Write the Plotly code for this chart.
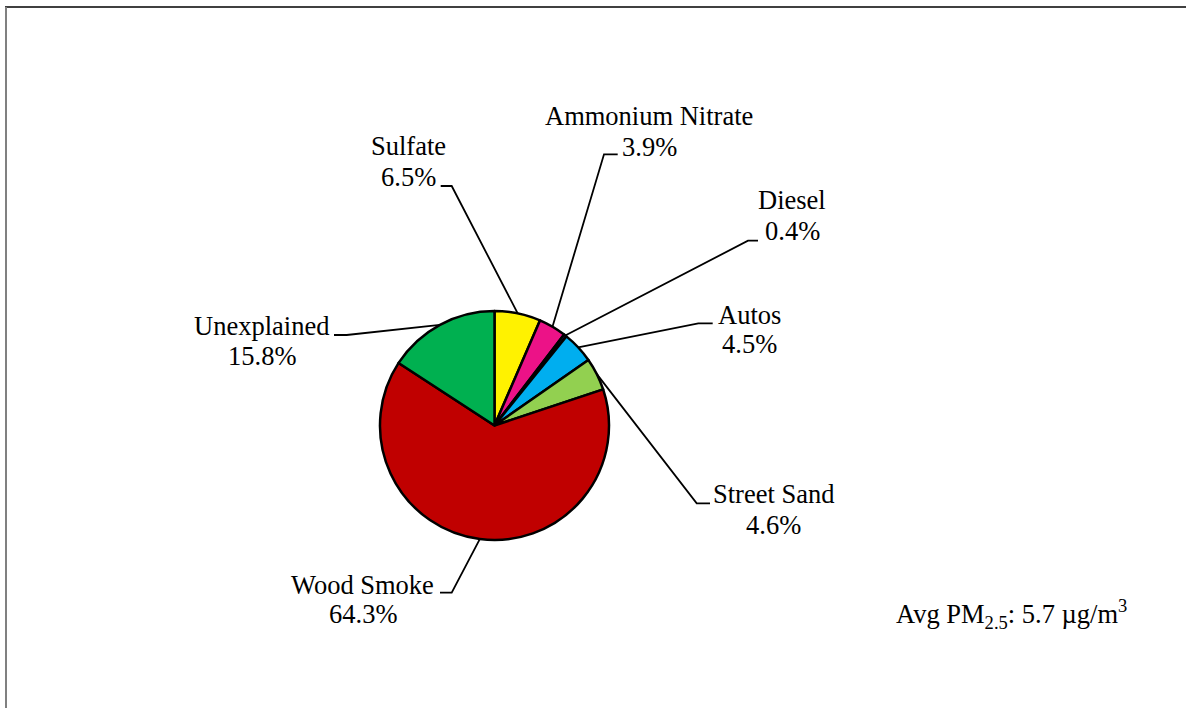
import math
import plotly.graph_objects as go

# ---- data ----
categories = ["Sulfate", "Ammonium Nitrate", "Diesel", "Autos", "Street Sand", "Wood Smoke", "Unexplained"]
values = [6.5, 3.9, 0.4, 4.5, 4.6, 64.3, 15.8]
colors = ["#FFF200", "#EC1287", "#1F1F8F", "#00AEEF", "#92D050", "#C00000", "#00B050"]
note_text = "Avg PM<sub>2.5</sub>: 5.7 µg/m<sup>3</sup>"

# ---- layout (page pixels) ----
W, H = 1186, 708
CX, CY, R = 494.5, 425.5, 114.5
FONT = "Liberation Serif, Times New Roman, serif"
FS = 26.5
# label centre x, baseline of name, baseline of percentage
label_cx = [408.3, 649.0, 792.0, 749.0, 773.3, 362.5, 261.5]
label_b1 = [155.0, 125.0, 209.3, 324.0, 503.3, 594.0, 335.0]
label_b2 = [185.7, 155.7, 240.0, 353.3, 533.5, 623.0, 365.0]
# leader: x at label end, x of elbow, y of horizontal segment
lead_x0 = [440.7, 617.7, 758.0, 712.7, 710.0, 440.0, 334.0]
lead_x1 = [451.7, 604.0, 748.0, 698.3, 696.7, 451.7, 346.7]
lead_y = [186.0, 154.3, 240.7, 323.3, 503.3, 592.7, 335.0]

fig = go.Figure()
fig.add_trace(go.Pie(
    labels=categories, values=values, sort=False, direction="clockwise", rotation=0,
    marker=dict(colors=colors, line=dict(color="black", width=2.5)),
    textinfo="none", showlegend=False,
    domain=dict(x=[(CX - R) / W, (CX + R) / W], y=[1 - (CY + R) / H, 1 - (CY - R) / H]),
))
# invisible pixel axes for overlays
fig.add_trace(go.Scatter(x=[0, W], y=[0, H], mode="markers", marker=dict(opacity=0),
                         hoverinfo="skip", showlegend=False))

total = sum(values)
cum = 0.0
shapes = []
annotations = []
off = 0.3375 * FS
for i, (cat, v) in enumerate(zip(categories, values)):
    mid = (cum + v / 2) / total * 2 * math.pi
    cum += v
    px = CX + R * math.sin(mid)
    py = CY - R * math.cos(mid)
    path = f"M {lead_x0[i]},{lead_y[i]} L {lead_x1[i]},{lead_y[i]} L {px},{py}"
    shapes.append(dict(type="path", xref="x", yref="y", path=path,
                       line=dict(color="black", width=1.8)))
    annotations.append(dict(x=label_cx[i], y=label_b1[i] - off, xref="x", yref="y", text=cat,
                            showarrow=False, xanchor="center", yanchor="middle",
                            font=dict(family=FONT, size=FS, color="black")))
    annotations.append(dict(x=label_cx[i], y=label_b2[i] - off, xref="x", yref="y", text=f"{v:.1f}%",
                            showarrow=False, xanchor="center", yanchor="middle",
                            font=dict(family=FONT, size=FS, color="black")))

annotations.append(dict(x=894, y=623.3 - off, xref="x", yref="y", text=note_text,
                        showarrow=False, xanchor="left", yanchor="middle",
                        font=dict(family=FONT, size=FS, color="black")))

# chart frame
shapes.append(dict(type="line", xref="x", yref="y", x0=5, x1=W, y0=7, y1=7,
                   line=dict(color="black", width=1.5)))
shapes.append(dict(type="line", xref="x", yref="y", x0=6, x1=6, y0=7, y1=H,
                   line=dict(color="#808080", width=2)))

fig.update_layout(
    width=W, height=H, margin=dict(l=0, r=0, t=0, b=0),
    paper_bgcolor="white", plot_bgcolor="white",
    xaxis=dict(range=[0, W], visible=False, domain=[0, 1], fixedrange=True),
    yaxis=dict(range=[H, 0], visible=False, domain=[0, 1], fixedrange=True),
    shapes=shapes, annotations=annotations,
)

fig.write_html("out.html", config={"displayModeBar": False},
               post_script="document.body.style.margin='0';document.body.style.overflow='hidden';")
